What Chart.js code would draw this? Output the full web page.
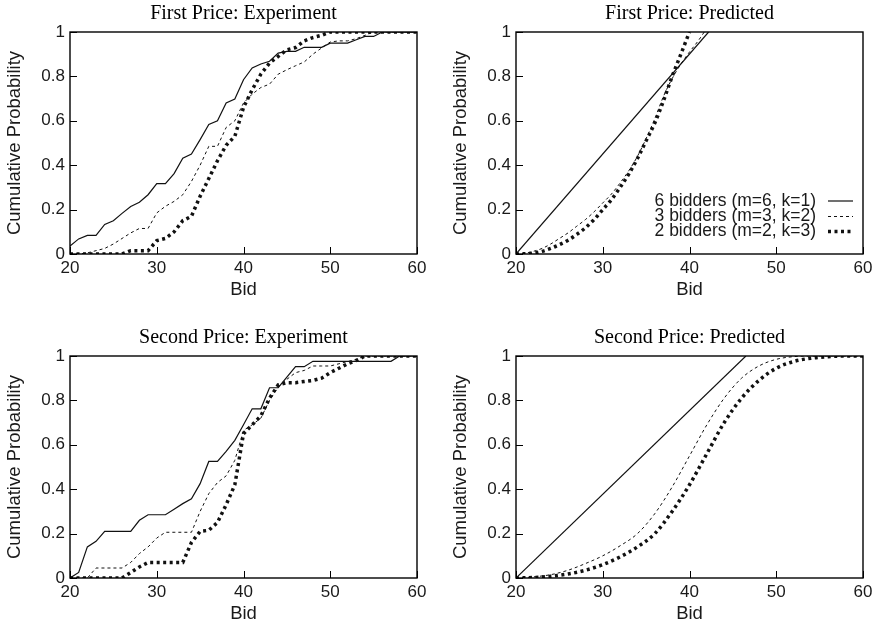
<!DOCTYPE html>
<html>
<head>
<meta charset="UTF-8">
<title>Cumulative bid distributions</title>
<script src="https://cdn.jsdelivr.net/npm/chart.js"></script>
<style>
  html, body { margin: 0; padding: 0; background: #fff; overflow: hidden; }
  #wrap { position: relative; width: 876px; height: 626px; }
  canvas { position: absolute; }
</style>
</head>
<body>
<div id="wrap">
  <canvas id="fpExp" width="438" height="313" style="left:0;top:0"></canvas>
  <canvas id="fpPred" width="438" height="313" style="left:446px;top:0"></canvas>
  <canvas id="spExp" width="438" height="313" style="left:0;top:324px"></canvas>
  <canvas id="spPred" width="438" height="313" style="left:446px;top:324px"></canvas>
</div>

<script>
// ---- data ----
const seriesLabels = ['6 bidders (m=6, k=1)', '3 bidders (m=3, k=2)', '2 bidders (m=2, k=3)'];
const yTickLabels = ['0', '0.2', '0.4', '0.6', '0.8', '1'];

// experiment: bids 20..60
const bids = [20,21,22,23,24,25,26,27,28,29,30,31,32,33,34,35,36,37,38,39,40,
              41,42,43,44,45,46,47,48,49,50,51,52,53,54,55,56,57,58,59,60];

const fpExp6 = [0.036,0.068,0.084,0.084,0.133,0.15,0.183,0.214,0.233,0.267,0.317,0.317,0.362,0.432,0.45,0.515,0.583,0.6,0.68,0.698,0.785,
                0.838,0.856,0.868,0.905,0.913,0.913,0.931,0.931,0.931,0.95,0.95,0.95,0.965,0.98,0.98,1,1,1,1,1];
const fpExp3 = [0,0,0.005,0.015,0.025,0.045,0.07,0.095,0.115,0.115,0.185,0.215,0.237,0.267,0.327,0.4,0.485,0.485,0.57,0.6,0.68,
                0.72,0.75,0.765,0.81,0.83,0.848,0.865,0.9,0.928,0.955,0.96,0.96,0.97,0.985,1,1,1,1,1,1];
const fpExp2 = [0,0,0,0,0,0,0,0.015,0.015,0.015,0.06,0.07,0.1,0.15,0.17,0.26,0.34,0.42,0.49,0.53,0.66,
                0.74,0.81,0.86,0.89,0.92,0.93,0.96,0.975,0.985,1,1,1,1,1,1,1,1,1,1,1];

const spExp6 = [0,0.025,0.14,0.165,0.21,0.21,0.21,0.21,0.26,0.285,0.285,0.285,0.31,0.335,0.357,0.425,0.525,0.525,0.57,0.62,0.69,
                0.762,0.762,0.857,0.857,0.905,0.952,0.952,0.976,0.976,0.976,0.976,0.976,0.976,0.976,0.976,0.976,0.976,1,1,1];
const spExp3 = [0,0,0,0.045,0.045,0.045,0.045,0.07,0.11,0.14,0.18,0.206,0.206,0.206,0.206,0.3,0.38,0.43,0.46,0.53,0.665,
                0.69,0.72,0.8,0.86,0.895,0.925,0.935,0.955,0.955,0.955,0.965,0.975,0.985,1,1,1,1,1,1,1];
const spExp2 = [0,0,0,0,0,0,0,0.025,0.05,0.07,0.07,0.07,0.07,0.07,0.16,0.21,0.215,0.25,0.33,0.42,0.65,
                0.69,0.73,0.81,0.87,0.88,0.88,0.885,0.89,0.9,0.925,0.945,0.965,0.98,1,1,1,1,1,1,1];

// predicted curves
const fpPredX6 = [20, 42.2];
const fpPred6  = [0, 1];
const fpPredX3 = [20,21,22,23,24,25,26,27,28,29,30,31,32,33,34,35,36,37,38,39,40,41,41.7];
const fpPred3  = [0,0.003,0.012,0.025,0.045,0.07,0.095,0.125,0.155,0.19,0.23,0.27,0.32,0.375,0.44,0.52,0.61,0.71,0.79,0.855,0.91,0.96,1];
const fpPredX2 = [20,21,22,23,24,25,26,27,28,29,30,31,32,33,34,35,36,37,38,39,40];
const fpPred2  = [0,0.001,0.004,0.012,0.025,0.042,0.062,0.088,0.118,0.155,0.2,0.245,0.3,0.36,0.43,0.51,0.59,0.69,0.8,0.9,1];

const spPredX6 = [20, 46.5];
const spPred6  = [0, 1];
const spPredX  = [20,22,24,26,28,30,32,34,36,38,40,42,44,46,48,50,52,54,56,58,60];
const spPred3  = [0,0.005,0.015,0.035,0.065,0.1,0.145,0.2,0.29,0.41,0.55,0.69,0.81,0.9,0.955,0.985,0.997,1,1,1,1];
const spPred2  = [0,0.002,0.008,0.018,0.035,0.06,0.095,0.14,0.2,0.3,0.42,0.56,0.7,0.81,0.89,0.945,0.975,0.99,0.997,1,1];

// ---- styles ----
Chart.defaults.font.family = "'Liberation Sans', Arial, sans-serif";
Chart.defaults.color = '#1a1a1a';

const lineStyles = [
  { borderWidth: 1.2, borderDash: [] },        // 6 bidders
  { borderWidth: 1,   borderDash: [3, 3] },    // 3 bidders
  { borderWidth: 3.5, borderDash: [3, 3.5] }   // 2 bidders
];

function pts(xs, ys) {
  return xs.map((x, i) => ({ x: x, y: ys[i] }));
}

function makeSets(list, smooth) {
  return list.map((d, i) => ({
    label: seriesLabels[i],
    data: pts(d[0], d[1]),
    borderColor: '#111',
    borderWidth: lineStyles[i].borderWidth,
    borderDash: lineStyles[i].borderDash,
    borderCapStyle: 'butt',
    pointRadius: 0,
    fill: false,
    tension: 0,
    cubicInterpolationMode: smooth ? 'monotone' : 'default'
  }));
}

// frame + inward tick marks (gnuplot look)
const framePlugin = {
  id: 'frame',
  afterDatasetsDraw(chart) {
    const { ctx, chartArea: a, scales } = chart;
    ctx.save();
    ctx.strokeStyle = '#000';
    ctx.lineWidth = 1.4;
    ctx.strokeRect(a.left, a.top, a.right - a.left, a.bottom - a.top);
    ctx.lineWidth = 1;
    ctx.beginPath();
    scales.x.ticks.forEach(t => {
      const px = Math.round(scales.x.getPixelForValue(t.value)) + 0.5;
      ctx.moveTo(px, a.bottom);
      ctx.lineTo(px, a.bottom - 7);
    });
    scales.y.ticks.forEach(t => {
      const py = Math.round(scales.y.getPixelForValue(t.value)) + 0.5;
      ctx.moveTo(a.left, py);
      ctx.lineTo(a.left + 7, py);
    });
    ctx.stroke();
    ctx.restore();
  }
};

// legend inside plot, text then line sample
const innerLegend = {
  id: 'innerLegend',
  afterDatasetsDraw(chart, args, opts) {
    if (!opts.display) return;
    const { ctx, chartArea: a } = chart;
    const rows = [53, 37.5, 22.5];
    ctx.save();
    ctx.font = "17.5px 'Liberation Sans', Arial, sans-serif";
    ctx.fillStyle = '#1a1a1a';
    ctx.textAlign = 'right';
    ctx.textBaseline = 'middle';
    chart.data.datasets.forEach((ds, i) => {
      const y = a.bottom - rows[i];
      ctx.fillText(ds.label, a.right - 47, y);
      ctx.strokeStyle = ds.borderColor;
      ctx.lineWidth = ds.borderWidth;
      ctx.setLineDash(ds.borderDash);
      ctx.lineCap = 'butt';
      ctx.beginPath();
      ctx.moveTo(a.right - 35, y);
      ctx.lineTo(a.right - 10, y);
      ctx.stroke();
    });
    ctx.restore();
  }
};

function makeChart(id, title, datasets, showLegend) {
  return new Chart(document.getElementById(id), {
    type: 'line',
    data: { datasets: datasets },
    plugins: [framePlugin, innerLegend],
    options: {
      responsive: false,
      animation: false,
      layout: { padding: { left: 0, right: 21, top: 0, bottom: 0 } },
      plugins: {
        legend: { display: false },
        tooltip: { enabled: false },
        innerLegend: { display: showLegend },
        title: {
          display: true,
          text: title,
          fullSize: false,
          color: '#000',
          font: { family: "'Liberation Serif', 'Times New Roman', serif", size: 20, weight: 'normal' },
          padding: { top: 2, bottom: 6 }
        }
      },
      scales: {
        x: {
          type: 'linear',
          min: 20, max: 60,
          grid: { display: false, drawTicks: false },
          border: { display: false },
          ticks: { stepSize: 10, padding: 4, font: { size: 17 }, maxRotation: 0 },
          title: { display: true, text: 'Bid', font: { size: 18.5 }, padding: { top: 0, bottom: 12 } },
          afterFit(scale) { scale.height = 59; }
        },
        y: {
          min: 0, max: 1,
          grid: { display: false, drawTicks: false },
          border: { display: false },
          ticks: {
            stepSize: 0.2, padding: 5, font: { size: 17 },
            callback: (v) => yTickLabels[Math.round(v * 5)]
          },
          title: { display: true, text: 'Cumulative Probability', font: { size: 18.5 }, padding: { top: 4, bottom: 0 } },
          afterFit(scale) { scale.width = 70; }
        }
      }
    }
  });
}

makeChart('fpExp', 'First Price: Experiment',
  makeSets([[bids, fpExp6], [bids, fpExp3], [bids, fpExp2]], false), false);
makeChart('fpPred', 'First Price: Predicted',
  makeSets([[fpPredX6, fpPred6], [fpPredX3, fpPred3], [fpPredX2, fpPred2]], true), true);
makeChart('spExp', 'Second Price: Experiment',
  makeSets([[bids, spExp6], [bids, spExp3], [bids, spExp2]], false), false);
makeChart('spPred', 'Second Price: Predicted',
  makeSets([[spPredX6, spPred6], [spPredX, spPred3], [spPredX, spPred2]], true), false);
</script>
</body>
</html>
